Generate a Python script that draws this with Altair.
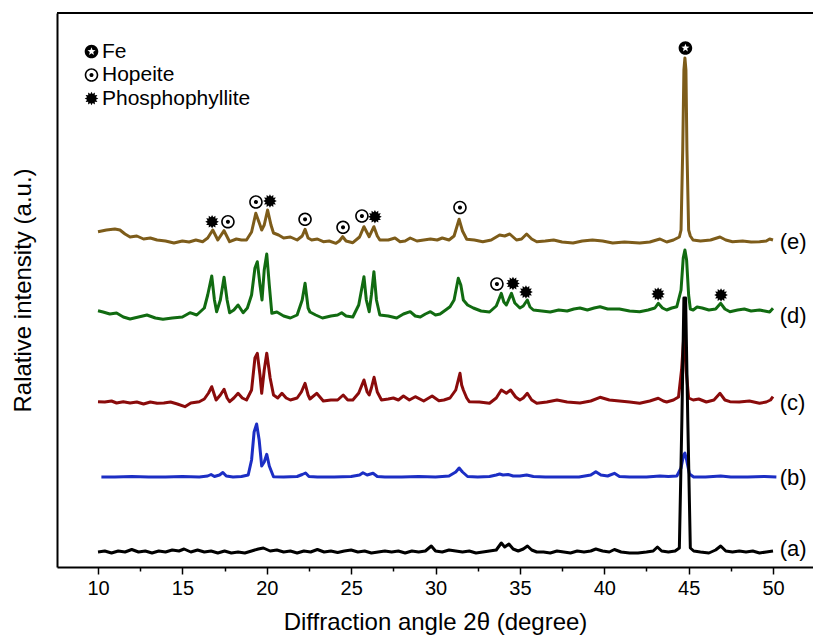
import math
import altair as alt
import pandas as pd

# ---------------- data ----------------
# (e) brown
e_x = [10.0, 10.5, 11.0, 11.3, 11.6, 11.9, 12.3, 12.7, 13.1, 13.5, 14.0, 14.5, 15.0, 15.4, 15.8, 16.2, 16.5, 16.8, 17.1, 17.47,
       17.8, 18.2, 18.5, 18.8, 19.1, 19.35, 19.6, 19.7, 19.85, 20.05, 20.25, 20.4, 20.7, 21.0, 21.4, 21.8, 22.1, 22.27, 22.45, 22.66,
       23.0, 23.35, 23.7, 24.1, 24.3, 24.5, 24.7, 25.1, 25.5, 25.76, 26.07, 26.35, 26.55, 26.7, 27.2, 27.6, 27.9, 28.2, 28.5, 28.9,
       29.3, 29.7, 30.1, 30.4, 30.8, 31.1, 31.4, 31.6, 31.85, 32.3, 32.8, 33.3, 33.8, 34.1, 34.4, 34.8, 35.1, 35.4, 35.7, 36.0,
       36.5, 37.0, 37.5, 38.15, 38.7, 39.3, 39.9, 40.5, 41.2, 42.1, 42.7, 43.3, 43.7, 44.1, 44.45, 44.55, 44.65, 44.72, 44.78, 44.84,
       44.9, 45.0, 45.1, 45.26, 45.7, 46.3, 46.86, 47.2, 47.6, 48.2, 48.7, 49.2, 49.6, 49.8, 50.0]
e_y = [335.3, 337, 338, 337, 333, 330, 331, 328, 329, 327, 326, 324, 326, 325, 327, 325.3, 329, 337, 327, 336.3,
       325.3, 328, 327, 327, 335, 353.7, 342, 337, 342, 357, 342, 334, 332, 329, 330, 327, 331, 337.7, 329, 327,
       328, 325.3, 326, 323.7, 326, 330.3, 326, 324.3, 330, 340.3, 330.3, 340.3, 331, 327, 327, 329, 325.3, 326, 329, 326,
       327, 328, 327, 329, 327, 331, 347.7, 336, 327.7, 327, 325.3, 327, 332, 331, 333, 327, 328, 333, 328, 325.3,
       326, 327, 325, 324, 326, 327, 326, 324, 325, 324, 325, 328, 325, 327, 330, 337, 417, 497, 509, 497,
       417, 337, 331, 327, 326, 327, 330, 327, 325.3, 326, 325, 325.3, 326, 328, 327]

# (d) green
d_x = [10.0, 10.3, 10.7, 11.1, 11.5, 11.9, 12.4, 12.9, 13.4, 13.85, 14.4, 15.0, 15.45, 15.85, 16.3, 16.5, 16.74, 16.9, 17.03, 17.25,
       17.47, 17.65, 17.8, 18.05, 18.3, 18.6, 18.85, 19.1, 19.3, 19.44, 19.6, 19.72, 19.85, 20.0, 20.15, 20.3, 20.6, 21.0, 21.4, 21.8,
       22.1, 22.27, 22.45, 22.56, 22.9, 23.3, 23.8, 24.2, 24.44, 24.7, 25.1, 25.45, 25.76, 25.9, 26.07, 26.2, 26.35, 26.5, 26.7, 27.2,
       27.7, 28.1, 28.5, 28.8, 29.1, 29.4, 29.7, 30.0, 30.27, 30.6, 30.86, 31.1, 31.35, 31.5, 31.65, 31.9, 32.24, 32.7, 33.2, 33.6,
       33.9, 34.05, 34.2, 34.5, 34.7, 35.0, 35.2, 35.44, 35.6, 35.8, 36.3, 36.8, 37.3, 37.8, 38.2, 38.56, 39.0, 39.4, 39.75, 40.2,
       40.6, 40.9, 41.5, 42.1, 42.6, 43.0, 43.2, 43.45, 43.7, 44.0, 44.3, 44.55, 44.68, 44.78, 44.88, 45.0, 45.1, 45.27, 45.5, 45.8,
       46.2, 46.6, 46.9, 47.15, 47.45, 47.9, 48.3, 48.7, 49.2, 49.5, 49.8, 50.0]
d_y = [256.3, 255, 253, 254, 250, 248, 250, 252, 249, 247.7, 249, 250, 254.3, 252, 259, 272, 291, 267, 255.3, 267,
       289.7, 267, 254.3, 257, 262, 254.3, 259, 272, 299, 305.3, 282, 267, 297, 313, 282, 253.7, 255, 251, 249, 252,
       267, 283.7, 259, 255, 252, 249, 251, 252, 254.3, 251, 250, 262, 290.3, 267, 255.3, 272, 295.3, 267, 252, 251,
       249, 253, 255.3, 251, 250, 253, 255.3, 252, 253, 257, 260.3, 267, 288.7, 282, 267, 262, 259, 256, 255, 261,
       273.7, 265, 262, 273.7, 264, 259, 261, 267, 260, 257, 256, 255, 257, 256, 258, 259, 257, 259, 260.3, 258,
       258, 258, 256, 255.3, 257, 259, 263.7, 259, 257, 259, 260.3, 277, 309, 317, 307, 272, 258, 257, 260, 259,
       257, 258, 263.7, 258, 255.3, 257, 258, 256, 257, 256, 255, 258.7]

# (c) dark red
c_x = [10.0, 10.4, 10.8, 11.1, 11.5, 11.9, 12.3, 12.7, 13.1, 13.5, 13.9, 14.3, 14.7, 15.15, 15.5, 16.0, 16.3, 16.55, 16.74, 16.9,
       17.0, 17.25, 17.47, 17.65, 17.8, 18.05, 18.3, 18.55, 18.8, 19.1, 19.3, 19.44, 19.6, 19.7, 19.85, 20.0, 20.2, 20.4, 20.65, 20.9,
       21.15, 21.4, 21.8, 22.05, 22.27, 22.45, 22.56, 22.96, 23.35, 23.8, 24.2, 24.53, 24.8, 25.1, 25.45, 25.76, 25.95, 26.07, 26.2, 26.36,
       26.55, 26.8, 27.2, 27.5, 27.8, 28.1, 28.45, 28.8, 29.3, 29.8, 30.2, 30.5, 30.86, 31.2, 31.45, 31.55, 31.65, 31.85, 32.0, 32.6,
       33.2, 33.6, 33.9, 34.2, 34.45, 34.75, 35.0, 35.2, 35.44, 35.7, 36.0, 36.6, 37.2, 37.8, 38.56, 39.2, 39.75, 40.3, 40.9, 41.5,
       42.1, 42.7, 43.2, 43.5, 43.7, 44.1, 44.4, 44.58, 44.72, 44.85, 45.0, 45.27, 45.6, 46.05, 46.5, 46.86, 47.15, 47.45, 48.0, 48.6,
       49.2, 49.6, 49.85, 50.0]
c_y = [165.3, 165, 166, 164, 165.3, 164, 165, 163, 165, 163.7, 164, 165, 163, 160.3, 164, 165.3, 168, 174, 180.3, 172,
       167, 172, 177.7, 169, 165.3, 169, 173.7, 169, 167, 177, 209, 213.7, 192, 173.7, 197, 213.7, 189, 172, 169, 173.7,
       169, 167, 169, 175, 183.7, 172, 168, 173.7, 166, 167, 167, 172, 167, 167, 174, 187, 175, 172, 179, 189.7,
       175, 167, 168, 169, 167, 171, 167, 170.3, 166, 171, 166.3, 167, 169, 177, 193.7, 182, 177, 169, 165.3, 165,
       163.7, 169, 177, 173.7, 177, 170, 167, 169, 173.7, 167, 163.7, 165, 167, 165, 164, 166, 169.7, 167, 166, 165,
       163.7, 166, 168.7, 166, 165, 167, 170, 197, 232, 197, 169, 167, 168, 165, 167, 173.7, 167, 165.3, 165, 166,
       163.7, 165, 167, 170.3]

# (b) blue
b_x = [10.2, 11, 12, 13, 14, 15, 16, 16.5, 16.7, 16.9, 17.2, 17.4, 17.6, 18, 18.5, 18.9, 19.1, 19.25, 19.4, 19.55,
       19.7, 19.85, 20.0, 20.15, 20.4, 21, 21.8, 22.1, 22.3, 22.5, 23, 24, 25, 25.5, 25.7, 25.95, 26.3, 26.55, 27, 28,
       29, 30, 30.8, 31.2, 31.4, 31.6, 31.9, 32.5, 33.2, 33.6, 33.8, 34.0, 34.3, 34.6, 35, 35.4, 35.8, 36.5, 37.5, 38.5,
       39.2, 39.5, 39.8, 40.2, 40.6, 40.9, 41.5, 42.5, 43.3, 43.8, 44.3, 44.55, 44.7, 44.78, 44.88, 45.05, 45.3, 46, 46.9, 47.5,
       48.5, 49.5, 50.2]
b_y = [90, 90, 90.5, 90, 90, 90.5, 90, 91, 92.5, 90.5, 92, 94.5, 91, 90, 90.5, 92, 107, 135, 143, 127,
       101, 105, 112.7, 101, 90.3, 90, 90.5, 92.5, 94, 90.5, 90, 90, 90.5, 92, 94.3, 92, 93.7, 90.5, 90, 90,
       90.5, 90, 91, 95, 99, 95, 90.5, 90, 90.5, 92, 93, 92, 92.5, 91, 91, 92, 90.5, 90, 90, 90,
       92, 95.3, 92, 91, 93.7, 90.5, 90, 90, 91, 90.5, 91, 99, 112, 114, 107, 93, 90, 90, 91, 90,
       90, 90.5, 90]

# (a) black
a_x = [10.0, 10.4, 10.8, 11.2, 11.6, 12.0, 12.4, 12.8, 13.2, 13.6, 14.0, 14.4, 14.8, 15.1, 15.5, 15.9, 16.3, 16.7, 17.1, 17.5,
       17.9, 18.3, 18.7, 19.1, 19.5, 19.8, 20.2, 20.6, 21.0, 21.4, 21.8, 22.2, 22.6, 23.0, 23.4, 23.8, 24.2, 24.6, 25.0, 25.4,
       25.8, 26.2, 26.6, 27.0, 27.4, 27.8, 28.2, 28.6, 29.0, 29.4, 29.75, 30.0, 30.4, 30.8, 31.2, 31.6, 32.0, 32.4, 32.8, 33.2,
       33.6, 33.9, 34.1, 34.35, 34.6, 34.9, 35.2, 35.45, 35.7, 36.0, 36.4, 36.8, 37.2, 37.6, 38.0, 38.4, 38.8, 39.2, 39.5, 39.9,
       40.3, 40.6, 41.0, 41.5, 42.0, 42.5, 42.9, 43.15, 43.4, 43.8, 44.2, 44.45, 44.6, 44.72, 44.82, 44.95, 45.1, 45.3, 45.7, 46.2,
       46.6, 46.9, 47.2, 47.6, 48.0, 48.4, 48.8, 49.2, 49.6, 50.0]
a_y = [15, 16, 14, 16, 15, 17.5, 15, 16, 14, 16, 15, 17, 16, 18, 15, 17, 15, 16, 14, 16,
       14, 15, 14, 16, 18, 19, 16, 17, 15, 16, 14, 16, 15, 17.5, 15, 16, 14.5, 16, 17, 15,
       16, 14, 15, 16, 15, 16, 14, 16, 15, 16, 21, 16, 15, 17, 16, 15, 16, 14, 15, 16,
       17, 24, 20, 23, 18, 16, 18, 21, 17, 15, 15, 14, 16, 15, 14, 16, 15, 16, 18, 16,
       15, 17.5, 15, 14, 14, 15, 16, 20, 16, 15, 16, 19, 147, 269, 269, 147, 19, 16, 15, 14,
       17, 21, 16, 15, 16, 15, 16, 14, 15, 16]

# phase markers
marker_phase = ["Phosphophyllite", "Hopeite", "Hopeite", "Phosphophyllite", "Hopeite", "Hopeite", "Hopeite",
                "Phosphophyllite", "Hopeite", "Fe", "Hopeite", "Phosphophyllite", "Phosphophyllite",
                "Phosphophyllite", "Phosphophyllite"]
marker_x = [16.76, 17.70, 19.36, 20.19, 22.27, 24.52, 25.64, 26.41, 31.45, 44.81, 33.64, 34.59, 35.36, 43.19, 46.92]
marker_y = [345.3, 345.3, 365, 366, 347.7, 339.7, 351, 350.3, 359.5, 519, 283, 283.5, 275, 273, 272]

sample_names = ["(e)", "(d)", "(c)", "(b)", "(a)"]
sample_label_y = [325, 251, 164, 89, 18]
label_x = 50.4

phases = ["Fe", "Hopeite", "Phosphophyllite"]
major_ticks = [10, 15, 20, 25, 30, 35, 40, 45, 50]
minor_ticks = [12.5, 17.5, 22.5, 27.5, 32.5, 37.5, 42.5, 47.5]

# ---------------- styles ----------------
FONT = "Liberation Sans"
colors = {"(e)": "#7d5c1a", "(d)": "#116b11", "(c)": "#8a0b0b", "(b)": "#1c2ec4", "(a)": "#000000"}

# marker shapes (unit square -1..1)
def circle(r, sweep):
    return (f"M{r},0 A{r},{r} 0 1,{sweep} {-r},0 A{r},{r} 0 1,{sweep} {r},0 Z ")

star_pts = []
for k in range(10):
    ang = math.radians(-90 - 36 * k)
    rad = 0.62 if k % 2 == 0 else 0.26
    star_pts.append(f"{rad*math.cos(ang):.3f},{rad*math.sin(ang):.3f}")
fe_path = circle(1, 1) + "M" + " L".join(star_pts) + " Z"
hop_path = circle(1, 1) + circle(0.76, 0) + circle(0.3, 1)
burst = []
n_spk = 12
for k in range(2 * n_spk):
    ang = math.radians(-90 + 180.0 / n_spk * k)
    rad = 1.0 if k % 2 == 0 else 0.68
    burst.append(f"{rad*math.cos(ang):.3f},{rad*math.sin(ang):.3f}")
pho_path = "M" + " L".join(burst) + " Z"

x_scale = alt.Scale(domain=[7.57, 52.37], nice=False, zero=False)
y_scale = alt.Scale(domain=[0, 554], nice=False, zero=False)

x_axis_major = alt.Axis(
    title="Diffraction angle 2\u03b8 (degree)",
    values=major_ticks, format="d", tickSize=7, orient="bottom",
)
x_axis_minor = alt.Axis(
    title=None, values=minor_ticks, labels=False, domain=False, tickSize=4, orient="bottom",
)
y_axis = alt.Axis(title="Ralative intensity (a.u.)", ticks=False, labels=False, domain=True,
                  titlePadding=22, orient="left")

def series(xs, ys, name, xaxis=None, yaxis=None):
    df = pd.DataFrame({"two_theta": xs, "intensity": ys})
    return alt.Chart(df).mark_line(color=colors[name], strokeWidth=3, strokeJoin="round").encode(
        x=alt.X("two_theta:Q", scale=x_scale, axis=xaxis),
        y=alt.Y("intensity:Q", scale=y_scale, axis=yaxis),
    )

border = alt.Chart(pd.DataFrame({"top": [554]})).mark_rule(color="black", strokeWidth=2).encode(
    y=alt.Y("top:Q", scale=y_scale, axis=None))

lines = [series(e_x, e_y, "(e)", xaxis=x_axis_major, yaxis=y_axis),
         series(d_x, d_y, "(d)", xaxis=x_axis_minor),
         series(c_x, c_y, "(c)"),
         series(b_x, b_y, "(b)"),
         series(a_x, a_y, "(a)")]

mk = pd.DataFrame({"two_theta": marker_x, "intensity": marker_y, "phase": marker_phase})
markers = alt.Chart(mk).mark_point(filled=True, color="black", size=185, strokeWidth=0, opacity=1).encode(
    x=alt.X("two_theta:Q", scale=x_scale, axis=None),
    y=alt.Y("intensity:Q", scale=y_scale, axis=None),
    shape=alt.Shape("phase:N", scale=alt.Scale(domain=phases, range=[fe_path, hop_path, pho_path]),
                    legend=alt.Legend(orient="none", legendX=24, legendY=28, title=None, padding=0,
                                      labelFont=FONT, labelFontSize=21, labelColor="black",
                                      symbolSize=185, symbolFillColor="black", symbolStrokeWidth=0,
                                      symbolOpacity=1, rowPadding=1.5, labelOffset=0)),
)

lab = pd.DataFrame({"two_theta": [label_x] * 5, "intensity": sample_label_y, "name": sample_names})
labels = alt.Chart(lab).mark_text(align="left", baseline="middle", fontSize=22, font=FONT, color="black").encode(
    x=alt.X("two_theta:Q", scale=x_scale, axis=None),
    y=alt.Y("intensity:Q", scale=y_scale, axis=None),
    text="name:N",
)

chart = alt.layer(*lines[:1], border, *lines[1:], markers, labels).resolve_axis(
    x="independent", y="independent").properties(
    width=756, height=554,
    autosize=alt.AutoSizeParams(type="none"),
    padding={"left": 57, "top": 13, "right": 0, "bottom": 70},
).configure_view(stroke=None).configure_axis(
    grid=False, domainColor="black", domainWidth=2, tickColor="black", tickWidth=1.5,
    labelFont=FONT, labelFontSize=20, labelColor="black", labelPadding=4,
    titleFont=FONT, titleFontSize=24, titleColor="black", titleFontWeight="normal",
).configure_axisX(titlePadding=12)

chart.save("out.html", embed_options={"renderer": "svg", "actions": False})
